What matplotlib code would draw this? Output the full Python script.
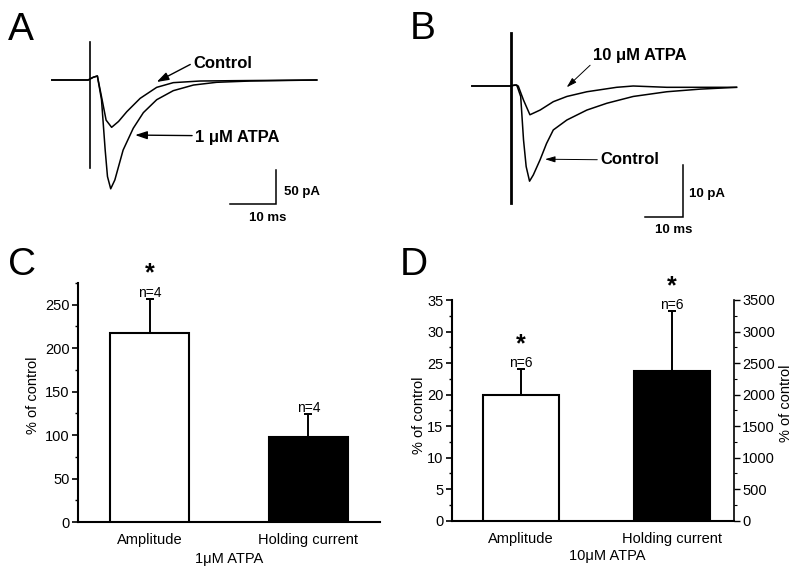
import matplotlib
matplotlib.use("Agg")
from matplotlib import pyplot as plt
from matplotlib.ticker import MultipleLocator

plt.rcParams['font.family'] = ['Liberation Sans', 'DejaVu Sans']

### Data ###

# Panel A: evoked currents (time in ms from stimulus, current in pA)
a_ctrl_t = [-8.3, -0.4, 0.7, 1.6, 2.5, 3.5, 4.7, 6.2, 8.0, 10.9, 14.5, 18.1, 23.9, 31.2, 49.3]
a_ctrl_i = [0, 0, 4, 5.9, -24.5, -59, -69.6, -61, -46.6, -27, -10.8, -3.9, -1.5, -1, 0]
a_atpa_t = [-8.3, -0.4, 0.7, 1.6, 2.5, 3.3, 3.8, 4.5, 5.4, 7.2, 9.4, 11.6, 14.5, 18.1, 22.5, 27.5, 34.8, 49.3]
a_atpa_i = [0, 0, 4, 5.9, -29, -103, -142, -160, -147, -103, -71, -48, -29, -15.7, -7.4, -3.4, -1.5, 0]
a_artifact = [56, -129]

# Panel B
b_ctrl_t = [-10.3, -0.2, 1.6, 2.65, 3.4, 4.1, 5.0, 6.0, 7.8, 9.5, 11.3, 14.9, 20.2, 25.5, 32.5, 41.4, 50.2, 59.9]
b_ctrl_i = [0, 0, 0.2, -2.0, -10.3, -15.4, -18.2, -17.0, -14.1, -11.0, -8.4, -6.5, -4.6, -3.3, -2.0, -1.1, -0.6, -0.25]
b_atpa_t = [-10.3, -0.2, 1.15, 2.0, 3.4, 5.1, 7.8, 11.3, 14.9, 20.2, 28.1, 32.5, 41.4, 50.2, 59.9]
b_atpa_i = [0, 0, 0.2, 0, -2.7, -5.5, -4.6, -3.0, -2.0, -1.1, -0.25, 0, -0.25, -0.25, -0.25]
b_artifact = [10.1, -22.3]

# Panel C: 1 uM ATPA
c_labels = ['Amplitude', 'Holding current']
c_values = [218, 98]
c_errors = [39, 26]
c_n = ['n=4', 'n=4']
c_sig = [True, False]

# Panel D: 10 uM ATPA (amplitude on left axis, holding current on right axis)
d_labels = ['Amplitude', 'Holding current']
d_amp = 20
d_amp_err = 4
d_hold = 2380
d_hold_err = 940
d_n = ['n=6', 'n=6']

W, H = 800, 573
fig = plt.figure(figsize=(W / 100, H / 100), dpi=100)


def px_axes(left, top, right, bottom):
    return fig.add_axes([left / W, 1 - bottom / H, (right - left) / W, (bottom - top) / H])


def trace_axes(box, x0, y0, px_ms, px_pa):
    left, top, right, bottom = box
    ax = px_axes(left, top, right, bottom)
    ax.set_xlim((left - x0) / px_ms, (right - x0) / px_ms)
    ax.set_ylim((y0 - bottom) / px_pa, (y0 - top) / px_pa)
    ax.axis('off')
    return ax


def scale_bar(ax, corner, ms, pa, ms_lbl, pa_lbl, pa_off, ms_off):
    cx, cy = corner
    ax.plot([cx - ms, cx, cx], [cy, cy, cy + pa], color='k', lw=1.1, solid_joinstyle='miter')
    ax.annotate(pa_lbl, (cx, cy), xytext=pa_off, textcoords='offset pixels',
                fontsize=9.5, fontweight='bold', va='center', ha='left')
    ax.annotate(ms_lbl, (cx, cy), xytext=ms_off, textcoords='offset pixels',
                fontsize=9.5, fontweight='bold', va='center', ha='center')


arrow = dict(arrowstyle='-|>,head_length=0.6,head_width=0.2', color='k', lw=1.0,
             shrinkA=0, shrinkB=0)
thin_arrow = dict(arrow, lw=0.7, arrowstyle='-|>,head_length=0.5,head_width=0.15')

### Panel A ###
axA = trace_axes((40, 30, 340, 230), 90, 80, 4.6, 0.68)
axA.plot(a_ctrl_t, a_ctrl_i, color='k', lw=1.1)
axA.plot(a_atpa_t, a_atpa_i, color='k', lw=1.1)
axA.plot([0, 0], a_artifact, color='k', lw=1.2)
axA.annotate('Control', xy=(14.5, -2.9), xytext=(22.4, 25), fontsize=12, fontweight='bold',
             va='center', ha='left', arrowprops=dict(arrow, relpos=(0, 0.5)))
axA.annotate('1 μM ATPA', xy=(9.8, -81), xytext=(22.8, -84), fontsize=12, fontweight='bold',
             va='center', ha='left', arrowprops=dict(arrow, relpos=(0, 0.6)))
scale_bar(axA, (40.4, -182.4), 10, 50, '10 ms', '50 pA', (8, 12), (-8, -14))

### Panel B ###
axB = trace_axes((460, 25, 760, 240), 510.7, 86, 3.77, 5.23)
axB.plot(b_ctrl_t, b_ctrl_i, color='k', lw=1.1)
axB.plot(b_atpa_t, b_atpa_i, color='k', lw=1.1)
axB.plot([0, 0], b_artifact, color='k', lw=2.0)
axB.annotate('10 μM ATPA', xy=(14.85, -0.25), xytext=(21.8, 5.9), fontsize=12, fontweight='bold',
             va='center', ha='left', arrowprops=dict(thin_arrow, relpos=(0, 0)))
axB.annotate('Control', xy=(9.1, -14.0), xytext=(23.7, -14.1), fontsize=12, fontweight='bold',
             va='center', ha='left', arrowprops=dict(thin_arrow, relpos=(0, 0.5)))
scale_bar(axB, (45.6, -25.1), 10, 10, '10 ms', '10 pA', (6, 23), (-9, -13))


def style_bar_axes(ax):
    for s in ['top', 'right']:
        ax.spines[s].set_visible(False)
    for s in ['left', 'bottom']:
        ax.spines[s].set_linewidth(1.5)
    ax.tick_params(axis='y', which='major', direction='out', length=4, width=1.2, labelsize=10.5, pad=2)
    ax.tick_params(axis='y', which='minor', direction='out', length=2, width=1.0)
    ax.tick_params(axis='x', length=0, labelsize=10.5, pad=8)


def mark(ax, x, top, n_lbl, sig):
    ax.annotate(n_lbl, (x, top), xytext=(0, 6), textcoords='offset pixels',
                ha='center', va='center', fontsize=10)
    if sig:
        ax.annotate('*', (x, top), xytext=(0, 13), textcoords='offset pixels',
                    ha='center', va='bottom', fontsize=18, fontweight='bold')


### Panel C ###
axC = px_axes(78, 283, 380, 522)
pos = [0, 1]
axC.bar(pos, c_values, width=0.5, color=['white', 'black'], edgecolor='k', linewidth=1.5, zorder=3)
axC.errorbar(pos, c_values, yerr=[[0, 0], c_errors], fmt='none', ecolor='k',
             elinewidth=1.4, capsize=3, capthick=1.4, zorder=2)
for p, v, e, n, s in zip(pos, c_values, c_errors, c_n, c_sig):
    mark(axC, p, v + e, n, s)
axC.set_xlim(-0.45, 1.45)
axC.set_ylim(0, 275)
axC.yaxis.set_major_locator(MultipleLocator(50))
axC.yaxis.set_minor_locator(MultipleLocator(25))
axC.set_xticks(pos)
axC.set_xticklabels(c_labels)
style_bar_axes(axC)
axC.set_ylabel('% of control', fontsize=10.5)
axC.yaxis.label.set_va('center')
axC.yaxis.set_label_coords(-0.149, 0.53)
axC.set_xlabel('1μM ATPA', fontsize=10.5)
axC.xaxis.set_label_coords(0.5, -0.125)

### Panel D ###
axD = px_axes(451.7, 300, 734, 520.7)
axD2 = axD.twinx()
axD.bar([0], [d_amp], width=0.5, color='white', edgecolor='k', linewidth=1.5, zorder=3)
axD.errorbar([0], [d_amp], yerr=[[0], [d_amp_err]], fmt='none', ecolor='k',
             elinewidth=1.4, capsize=3, capthick=1.4, zorder=2)
axD2.bar([1], [d_hold], width=0.5, color='black', edgecolor='k', linewidth=1.5, zorder=3)
axD2.errorbar([1], [d_hold], yerr=[[0], [d_hold_err]], fmt='none', ecolor='k',
              elinewidth=1.4, capsize=3, capthick=1.4, zorder=2)
mark(axD, 0, d_amp + d_amp_err, d_n[0], True)
mark(axD2, 1, d_hold + d_hold_err, d_n[1], True)
axD.set_xlim(-0.46, 1.41)
axD.set_ylim(0, 35)
axD2.set_ylim(0, 3500)
axD.yaxis.set_major_locator(MultipleLocator(5))
axD.yaxis.set_minor_locator(MultipleLocator(2.5))
axD2.yaxis.set_major_locator(MultipleLocator(500))
axD2.yaxis.set_minor_locator(MultipleLocator(250))
axD.set_xticks([0, 1])
axD.set_xticklabels(d_labels)
style_bar_axes(axD)
for s in ['top', 'left', 'bottom']:
    axD2.spines[s].set_visible(False)
axD2.spines['right'].set_linewidth(1.2)
axD2.tick_params(axis='y', which='major', direction='out', length=4, width=1.0, labelsize=10.5, pad=2)
axD2.tick_params(axis='y', which='minor', direction='out', length=2, width=0.8)
axD.set_ylabel('% of control', fontsize=10.5)
axD.yaxis.label.set_va('center')
axD.yaxis.set_label_coords(-0.115, 0.48)
axD2.set_ylabel('% of control', fontsize=10.5, rotation=90)
axD2.yaxis.label.set_va('center')
axD2.yaxis.set_label_coords(1.184, 0.53)
axD.set_xlabel('10μM ATPA', fontsize=10.5)
axD.xaxis.set_label_coords(0.55, -0.128)

### Panel letters ###
for lbl, x, y in [('A', 8, 40), ('B', 410, 39), ('C', 8, 275), ('D', 400, 275)]:
    fig.text(x / W, 1 - y / H, lbl, fontsize=28, va='baseline', ha='left')

fig.savefig('out.png', dpi=100)
